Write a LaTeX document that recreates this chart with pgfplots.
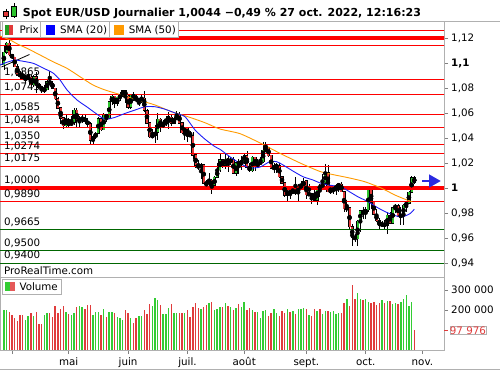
\documentclass[border=0pt]{standalone}
\usepackage{fontspec}
\setmainfont{DejaVu Sans}
\usepackage{pgfplots}
\pgfplotsset{compat=1.18}
\usepackage{pgfplotstable}

\definecolor{cgreen}{HTML}{2EC42E}
\definecolor{cred}{HTML}{E23A3A}
\definecolor{vgreen}{HTML}{33CC33}
\definecolor{vred}{HTML}{E03C3C}
\definecolor{smablue}{HTML}{1E1EF5}
\definecolor{smaorange}{HTML}{FF9A00}
\definecolor{framegray}{HTML}{B0B0B0}
\definecolor{tickgray}{HTML}{808080}
\definecolor{lvlgreen}{HTML}{006600}
\definecolor{lvlred}{HTML}{FF0000}
\definecolor{arrowblue}{HTML}{2A2AE0}
\newcommand\lf{\fontsize{10.3bp}{12bp}\selectfont}
\tikzset{lvl/.style={anchor=base west, inner sep=0pt, yshift=4.3bp, font=\lf}}

\pgfplotstableread{
i o h l c v
-1 1.0985 1.1137 1.0945 1.1085 200000
0 1.1085 1.1170 1.1075 1.1158 200000
1 1.1158 1.1185 1.1060 1.1067 188000
2 1.1067 1.1075 1.1030 1.1045 175000
3 1.1045 1.1050 1.0965 1.0970 158000
4 1.0970 1.0990 1.0900 1.0904 147000
5 1.0904 1.0937 1.0872 1.0902 175000
6 1.0902 1.0937 1.0865 1.0877 175000
7 1.0877 1.0905 1.0837 1.0880 150000
8 1.0880 1.0933 1.0860 1.0885 172000
9 1.0885 1.0905 1.0820 1.0826 183000
10 1.0826 1.0900 1.0810 1.0891 172000
11 1.0891 1.0925 1.0757 1.0826 190000
12 1.0826 1.0838 1.0800 1.0808 130000
13 1.0808 1.0815 1.0761 1.0780 130000
14 1.0780 1.0820 1.0760 1.0787 175000
15 1.0787 1.0866 1.0785 1.0852 185000
16 1.0852 1.0936 1.0825 1.0838 185000
17 1.0838 1.0855 1.0790 1.0797 163000
18 1.0797 1.0800 1.0700 1.0715 220000
19 1.0715 1.0725 1.0635 1.0640 187000
20 1.0640 1.0650 1.0515 1.0560 205000
21 1.0560 1.0570 1.0470 1.0499 220000
22 1.0499 1.0595 1.0490 1.0545 188000
23 1.0545 1.0560 1.0490 1.0505 182000
24 1.0505 1.0575 1.0495 1.0525 173000
25 1.0525 1.0640 1.0505 1.0621 185000
26 1.0621 1.0640 1.0490 1.0541 217000
27 1.0541 1.0580 1.0485 1.0548 220000
28 1.0548 1.0590 1.0520 1.0560 215000
29 1.0560 1.0585 1.0510 1.0530 205000
30 1.0530 1.0560 1.0485 1.0513 225000
31 1.0513 1.0530 1.0355 1.0381 225000
32 1.0381 1.0420 1.0350 1.0412 175000
33 1.0412 1.0445 1.0390 1.0437 190000
34 1.0437 1.0565 1.0430 1.0551 190000
35 1.0551 1.0565 1.0460 1.0465 177000
36 1.0465 1.0600 1.0460 1.0587 203000
37 1.0587 1.0590 1.0530 1.0563 167000
38 1.0563 1.0695 1.0555 1.0690 190000
39 1.0690 1.0750 1.0660 1.0734 188000
40 1.0734 1.0735 1.0640 1.0678 187000
41 1.0678 1.0730 1.0660 1.0725 167000
42 1.0725 1.0765 1.0695 1.0735 158000
43 1.0735 1.0787 1.0730 1.0780 150000
44 1.0780 1.0785 1.0680 1.0735 200000
45 1.0735 1.0740 1.0630 1.0648 183000
46 1.0648 1.0750 1.0630 1.0750 158000
47 1.0750 1.0765 1.0700 1.0719 137000
48 1.0719 1.0750 1.0690 1.0700 158000
49 1.0700 1.0710 1.0655 1.0706 170000
50 1.0706 1.0750 1.0680 1.0717 170000
51 1.0717 1.0775 1.0610 1.0620 200000
52 1.0620 1.0630 1.0510 1.0520 180000
53 1.0520 1.0525 1.0400 1.0410 228000
54 1.0410 1.0470 1.0397 1.0420 222000
55 1.0420 1.0505 1.0360 1.0445 258000
56 1.0445 1.0600 1.0380 1.0550 250000
57 1.0550 1.0560 1.0445 1.0495 227000
58 1.0495 1.0545 1.0480 1.0510 180000
59 1.0510 1.0580 1.0500 1.0535 180000
60 1.0535 1.0605 1.0470 1.0567 210000
61 1.0567 1.0585 1.0500 1.0520 230000
62 1.0520 1.0570 1.0510 1.0555 183000
63 1.0555 1.0615 1.0545 1.0583 187000
64 1.0583 1.0605 1.0515 1.0520 183000
65 1.0520 1.0530 1.0435 1.0442 187000
66 1.0442 1.0485 1.0385 1.0480 187000
67 1.0480 1.0485 1.0365 1.0425 198000
68 1.0425 1.0460 1.0405 1.0420 167000
69 1.0420 1.0445 1.0235 1.0265 217000
70 1.0265 1.0275 1.0160 1.0182 237000
71 1.0182 1.0220 1.0145 1.0162 208000
72 1.0162 1.0200 1.0070 1.0185 207000
73 1.0185 1.0185 1.0035 1.0038 213000
74 1.0038 1.0060 0.9998 1.0035 227000
75 1.0035 1.0120 0.9998 1.0060 233000
76 1.0060 1.0070 0.9952 1.0020 240000
77 1.0020 1.0095 1.0005 1.0085 200000
78 1.0085 1.0200 1.0080 1.0145 207000
79 1.0145 1.0270 1.0125 1.0225 217000
80 1.0225 1.0235 1.0160 1.0180 213000
81 1.0180 1.0275 1.0150 1.0230 235000
82 1.0230 1.0255 1.0130 1.0212 222000
83 1.0212 1.0250 1.0180 1.0225 217000
84 1.0225 1.0245 1.0110 1.0120 200000
85 1.0120 1.0210 1.0095 1.0200 210000
86 1.0200 1.0235 1.0115 1.0197 232000
87 1.0197 1.0255 1.0145 1.0220 213000
88 1.0220 1.0275 1.0195 1.0260 238000
89 1.0260 1.0295 1.0160 1.0165 200000
90 1.0165 1.0200 1.0125 1.0140 210000
91 1.0140 1.0255 1.0125 1.0245 200000
92 1.0245 1.0250 1.0140 1.0180 190000
93 1.0180 1.0230 1.0160 1.0195 190000
94 1.0195 1.0250 1.0185 1.0210 162000
95 1.0210 1.0365 1.0200 1.0300 197000
96 1.0300 1.0370 1.0290 1.0320 200000
97 1.0320 1.0330 1.0250 1.0260 170000
98 1.0260 1.0265 1.0150 1.0160 187000
99 1.0160 1.0200 1.0120 1.0170 205000
100 1.0170 1.0200 1.0120 1.0180 187000
101 1.0180 1.0200 1.0080 1.0090 172000
102 1.0090 1.0095 1.0030 1.0040 197000
103 1.0040 1.0045 0.9925 0.9940 183000
104 0.9940 1.0020 0.9900 0.9970 205000
105 0.9970 0.9995 0.9910 0.9965 192000
106 0.9965 1.0010 0.9950 0.9975 197000
107 0.9975 1.0090 0.9945 0.9965 178000
108 0.9965 1.0030 0.9900 1.0005 203000
109 1.0005 1.0055 0.9985 1.0020 205000
110 1.0020 1.0080 0.9985 1.0055 212000
111 1.0055 1.0055 0.9910 0.9945 205000
112 0.9945 1.0035 0.9940 0.9955 177000
113 0.9955 0.9960 0.9875 0.9930 170000
114 0.9930 0.9990 0.9900 0.9905 205000
115 0.9905 1.0010 0.9865 1.0010 195000
116 1.0010 1.0030 0.9930 1.0000 205000
117 1.0000 1.0110 0.9995 1.0040 182000
118 1.0040 1.0195 1.0040 1.0120 197000
119 1.0120 1.0185 0.9965 0.9970 195000
120 0.9970 1.0020 0.9955 0.9980 192000
121 0.9980 1.0015 0.9955 0.9995 197000
122 0.9995 1.0035 0.9945 1.0015 180000
123 1.0015 1.0030 0.9965 1.0030 185000
124 1.0030 1.0050 0.9965 0.9970 187000
125 0.9970 0.9975 0.9810 0.9835 235000
126 0.9835 0.9905 0.9805 0.9840 255000
127 0.9840 0.9850 0.9670 0.9690 222000
128 0.9690 0.9710 0.9535 0.9605 325000
129 0.9605 0.9635 0.9570 0.9595 255000
130 0.9595 0.9745 0.9535 0.9735 285000
131 0.9735 0.9815 0.9650 0.9815 257000
132 0.9815 0.9850 0.9750 0.9800 252000
133 0.9800 0.9850 0.9755 0.9825 255000
134 0.9825 1.0000 0.9810 0.9985 240000
135 0.9985 0.9995 0.9835 0.9885 237000
136 0.9885 0.9900 0.9785 0.9790 240000
137 0.9790 0.9830 0.9730 0.9740 223000
138 0.9740 0.9760 0.9670 0.9705 235000
139 0.9705 0.9735 0.9685 0.9710 250000
140 0.9710 0.9745 0.9670 0.9700 235000
141 0.9700 0.9810 0.9630 0.9780 245000
142 0.9780 0.9805 0.9710 0.9720 245000
143 0.9720 0.9850 0.9715 0.9840 232000
144 0.9840 0.9875 0.9800 0.9860 237000
145 0.9860 0.9875 0.9765 0.9775 232000
146 0.9775 0.9850 0.9705 0.9780 238000
147 0.9780 0.9870 0.9705 0.9860 255000
148 0.9860 0.9900 0.9810 0.9880 277000
149 0.9880 0.9975 0.9870 0.9965 222000
150 0.9965 1.0095 0.9960 1.0080 240000
151 1.0080 1.0095 1.0030 1.0044 97976
}\ohlc

\begin{document}
\begin{tikzpicture}
\useasboundingbox (0,0) rectangle (500bp,370bp);

% title bar
\draw[framegray, line width=0.8bp] (0,349bp) -- (500bp,349bp);
\draw[framegray, line width=0.8bp] (0,0.4bp) -- (500bp,0.4bp);
\draw[black, line width=0.6bp] (5.8bp,361bp) -- (5.8bp,351bp);
\filldraw[fill=cred, draw=black, line width=0.5bp] (3.5bp,353.5bp) rectangle (8.3bp,358.3bp);
\draw[black, line width=0.6bp] (13.8bp,366.7bp) -- (13.8bp,351.7bp);
\filldraw[fill=cgreen, draw=black, line width=0.5bp] (10.8bp,354bp) rectangle (16.7bp,363.3bp);
\node[anchor=base west, inner sep=0pt, font=\bfseries\fontsize{11bp}{13bp}\selectfont] at (22.7bp,353.5bp) {Spot EUR/USD Journalier 1,0044 −0,49 \% 27 oct. 2022, 12:16:23};

\begin{axis}[
  at={(0bp,93bp)}, anchor=south west, scale only axis,
  width=444bp, height=256bp,
  xmin=-2.44, xmax=162, ymin=0.9288, ymax=1.1336,
  axis line style={framegray, line width=0.8bp},
  xtick=\empty,
  ytick={0.94,0.96,0.98,1,1.02,1.04,1.06,1.08,1.1,1.12},
  yticklabels={{0,94},{0,96},{0,98},{\textbf{1}},{1,02},{1,04},{1,06},{1,08},{\textbf{1,1}},{1,12}},
  ytick pos=right, yticklabel pos=right,
  tick align=outside, major tick length=4bp,
  tick style={tickgray, line width=0.6bp},
  yticklabel style={anchor=west, inner sep=0pt, xshift=3bp, font=\lf},
]
% trend line
\addplot[black, line width=0.8bp, forget plot] coordinates {(-1.89,1.0968) (8.48,1.1068)};
% wicks
\addplot[only marks, mark=none, forget plot,
  error bars/.cd, y dir=both, y explicit, error mark=none,
  error bar style={black, line width=0.7bp}]
  table[x=i, y expr={(\thisrow{h}+\thisrow{l})/2}, y error expr={(\thisrow{h}-\thisrow{l})/2}] {\ohlc};
% body outlines
\addplot[only marks, mark=none, forget plot,
  error bars/.cd, y dir=both, y explicit, error mark=none,
  error bar style={black, line width=3.2bp}]
  table[x=i, y expr={(\thisrow{o}+\thisrow{c})/2}, y error expr={abs(\thisrow{c}-\thisrow{o})/2+0.0005}] {\ohlc};
% green bodies
\addplot[only marks, mark=none, forget plot,
  restrict expr to domain={\thisrow{c}-\thisrow{o}}{0:1},
  error bars/.cd, y dir=both, y explicit, error mark=none,
  error bar style={cgreen, line width=2bp}]
  table[x=i, y expr={(\thisrow{o}+\thisrow{c})/2}, y error expr={abs(\thisrow{c}-\thisrow{o})/2}] {\ohlc};
% red bodies
\addplot[only marks, mark=none, forget plot,
  restrict expr to domain={\thisrow{c}-\thisrow{o}}{-1:-0.00001},
  error bars/.cd, y dir=both, y explicit, error mark=none,
  error bar style={cred, line width=2bp}]
  table[x=i, y expr={(\thisrow{o}+\thisrow{c})/2}, y error expr={abs(\thisrow{c}-\thisrow{o})/2}] {\ohlc};

% horizontal levels
\addplot[lvlred, line width=3.5bp, forget plot] coordinates {(-3,1.12) (163,1.12)};
\addplot[lvlred, line width=3.5bp, forget plot] coordinates {(-3,1) (163,1)};
\addplot[lvlred, line width=0.9bp, forget plot] coordinates {(-3,1.1264) (163,1.1264)};
\addplot[lvlred, line width=0.9bp, forget plot] coordinates {(-3,1.1144) (163,1.1144)};
\addplot[lvlred, line width=0.9bp, forget plot] coordinates {(-3,1.0865) (163,1.0865)};
\addplot[lvlred, line width=0.9bp, forget plot] coordinates {(-3,1.0745) (163,1.0745)};
\addplot[lvlred, line width=0.9bp, forget plot] coordinates {(-3,1.0585) (163,1.0585)};
\addplot[lvlred, line width=0.9bp, forget plot] coordinates {(-3,1.0484) (163,1.0484)};
\addplot[lvlred, line width=0.9bp, forget plot] coordinates {(-3,1.0350) (163,1.0350)};
\addplot[lvlred, line width=0.9bp, forget plot] coordinates {(-3,1.0274) (163,1.0274)};
\addplot[lvlred, line width=0.9bp, forget plot] coordinates {(-3,1.0175) (163,1.0175)};
\addplot[lvlred, line width=0.9bp, forget plot] coordinates {(-3,0.9890) (163,0.9890)};
\addplot[lvlgreen, line width=0.9bp, forget plot] coordinates {(-3,0.9665) (163,0.9665)};
\addplot[lvlgreen, line width=0.9bp, forget plot] coordinates {(-3,0.9500) (163,0.9500)};
\addplot[lvlgreen, line width=0.9bp, forget plot] coordinates {(-3,0.9400) (163,0.9400)};

% SMA 50
\addplot[smaorange, line width=0.9bp, smooth, tension=0.4] coordinates {
(-2.44,1.1216) (1.3,1.1184) (4.2,1.1150) (7.6,1.1117) (12.4,1.1064) (17.2,1.1010)
(22.4,1.0957) (27.2,1.0890) (32,1.0824) (36.5,1.0784) (42.6,1.0744) (48.7,1.0704)
(55,1.0664) (61.1,1.0610) (67.2,1.0570) (73.5,1.0522) (79,1.0472) (86.4,1.0435)
(93.9,1.0360) (101.3,1.0277) (108.7,1.0200) (116.1,1.0132) (121.6,1.0104)
(126.4,1.0083) (132.7,1.0050) (139,0.9997) (143.8,0.9944) (148.3,0.9904) (150.2,0.9890)};
% SMA 20
\addplot[smablue, line width=0.9bp, smooth, tension=0.4] coordinates {
(-2.44,1.0984) (0,1.1005) (3.1,1.1024) (5,1.1018) (9.8,1.0998) (13.5,1.0960)
(17.2,1.0920) (19.8,1.0864) (22.4,1.0784) (26.1,1.0704) (29.8,1.0648) (33.5,1.0590)
(36.5,1.0550) (40.1,1.0565) (43.9,1.0597) (47.6,1.0624) (51.3,1.0650) (55,1.0650)
(58.7,1.0630) (62.4,1.0600) (66.1,1.0570) (69.8,1.0464) (73.5,1.0390) (77.2,1.0330)
(79,1.0310) (82.7,1.0250) (86.4,1.0197) (90.1,1.0160) (93.9,1.0168) (97.6,1.0212)
(100.1,1.0210) (102.4,1.0184) (106.1,1.0135) (109.8,1.0090) (113.5,1.0064)
(116.1,1.0040) (119,1.0025) (122,1.0015) (124.2,1.0005) (126.4,0.9978) (130.1,0.9930)
(133.9,0.9890) (137.6,0.9840) (141.3,0.9800) (145,0.9772) (146.8,0.9770)
(149.4,0.9795) (151,0.9830)};

% level labels
\node[lvl] at (axis cs:-0.96,1.0865) {1,0865};
\node[lvl] at (axis cs:-0.96,1.0745) {1,0745};
\node[lvl] at (axis cs:-0.96,1.0585) {1,0585};
\node[lvl] at (axis cs:-0.96,1.0484) {1,0484};
\node[lvl] at (axis cs:-0.96,1.0350) {1,0350};
\node[lvl] at (axis cs:-0.96,1.0274) {1,0274};
\node[lvl] at (axis cs:-0.96,1.0175) {1,0175};
\node[lvl] at (axis cs:-0.96,1.0000) {1,0000};
\node[lvl] at (axis cs:-0.96,0.9890) {0,9890};
\node[lvl] at (axis cs:-0.96,0.9665) {0,9665};
\node[lvl] at (axis cs:-0.96,0.9500) {0,9500};
\node[lvl] at (axis cs:-0.96,0.9400) {0,9400};
\end{axis}

% volume panel
\begin{axis}[
  at={(0bp,20bp)}, anchor=south west, scale only axis,
  width=444bp, height=73bp,
  xmin=-2.44, xmax=162, ymin=0, ymax=365000,
  axis line style={framegray, line width=0.8bp},
  xtick={2,23,45,67,88,111,133,154},
  xticklabels={,mai,juin,juil.,août,sept.,oct.,nov.},
  xtick pos=bottom, xticklabel pos=bottom,
  ytick={200000,300000}, yticklabels={200 000,300 000},
  ytick pos=right, yticklabel pos=right,
  scaled y ticks=false,
  extra y ticks={97976}, extra y tick labels={97 976},
  extra y tick style={tick style={vred, line width=0.8bp},
     tick label style={text=vred, fill=white, draw=framegray, inner sep=1.3bp, xshift=-1.3bp}},
  tick align=outside, major tick length=4bp,
  tick style={tickgray, line width=0.6bp},
  yticklabel style={anchor=west, inner sep=0pt, xshift=3bp, font=\lf},
  xticklabel style={anchor=base, inner sep=0pt, yshift=-11bp, font=\lf},
]
\addplot[ycomb, vgreen, line width=1.4bp, mark=none,
  restrict expr to domain={\thisrow{c}-\thisrow{o}}{0:1}] table[x=i, y=v] {\ohlc};
\addplot[ycomb, vred, line width=1.4bp, mark=none,
  restrict expr to domain={\thisrow{c}-\thisrow{o}}{-1:-0.00001}] table[x=i, y=v] {\ohlc};
\end{axis}

% ProRealTime.com
\node[anchor=base west, inner sep=0pt, font=\lf] at (4bp,95.5bp) {ProRealTime.com};

% current price arrow
\fill[arrowblue] (421.7bp,187.9bp) rectangle (430bp,190.1bp);
\fill[arrowblue] (429bp,195.7bp) -- (440.7bp,189bp) -- (429bp,182.3bp) -- cycle;

% main legend
\draw[framegray, fill=white, line width=0.8bp] (2.7bp,332.7bp) rectangle (178bp,348.3bp);
\draw[framegray, line width=0.8bp] (40.7bp,332.7bp) -- (40.7bp,348.3bp);
\draw[framegray, line width=0.8bp] (109.3bp,332.7bp) -- (109.3bp,348.3bp);
\fill[cgreen!80!black] (5bp,335bp) rectangle (9.2bp,345bp);
\fill[cred] (9.2bp,335bp) rectangle (13.3bp,345bp);
\node[anchor=base west, inner sep=0pt, font=\lf] at (19.3bp,336.7bp) {Prix};
\fill[blue] (46bp,335bp) rectangle (55bp,345bp);
\node[anchor=base west, inner sep=0pt, font=\lf] at (60bp,336.7bp) {SMA (20)};
\fill[smaorange] (114.3bp,335bp) rectangle (124bp,345bp);
\node[anchor=base west, inner sep=0pt, font=\lf] at (128.7bp,336.7bp) {SMA (50)};

% volume legend
\draw[framegray, fill=white, line width=0.8bp] (2.7bp,76bp) rectangle (61.7bp,90.7bp);
\fill[vgreen] (5bp,79.3bp) rectangle (10bp,88.3bp);
\fill[vred!85!white] (10bp,79.3bp) rectangle (15bp,88.3bp);
\node[anchor=base west, inner sep=0pt, font=\lf] at (19.3bp,79.6bp) {Volume};
\end{tikzpicture}
\end{document}
